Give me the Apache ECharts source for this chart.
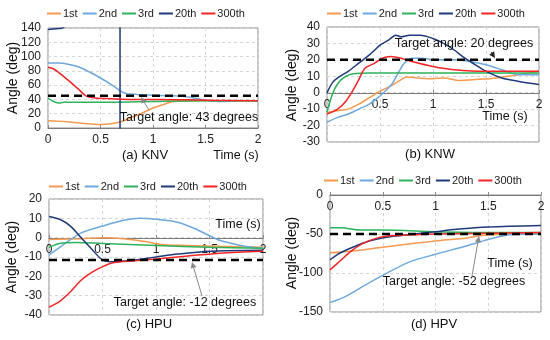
<!DOCTYPE html>
<html><head><meta charset="utf-8">
<script src="https://cdn.jsdelivr.net/npm/echarts@6/dist/echarts.min.js"></script>
<style>html,body{margin:0;padding:0;background:#fff}#c{width:550px;height:340px}</style>
</head><body><div id="c"></div>
<script>
var seriesNames = ['1st','2nd','3rd','20th','300th'];
var colors = ['#F59A4E','#6FA8DC','#2EB35A','#1F3A7A','#F52525'];
var xTicks = [0,0.5,1,1.5,2];

// (a) KNV
var knv1 = [[0,10],[0.15,9],[0.3,7],[0.5,5],[0.6,6],[0.7,9],[0.8,15],[0.9,21],[1.0,28],[1.1,33],[1.2,37],[1.4,38],[1.6,38],[2,38]];
var knv2 = [[0,91],[0.1,91],[0.2,89],[0.3,85],[0.4,78],[0.5,70],[0.6,61],[0.7,51],[0.75,48],[0.85,47],[1.0,46],[1.2,45],[1.35,43],[1.5,39],[1.65,37],[1.8,38],[2,38]];
var knv3 = [[0,42],[0.04,38],[0.1,35],[0.15,36],[0.3,36],[0.6,36],[1.0,37],[1.5,38],[2,38]];
var knv20 = [[0,138],[0.08,139],[0.15,141],[0.686,300],[0.686,-100]];
var knv300 = [[0,85],[0.05,83],[0.1,78],[0.2,66],[0.3,53],[0.36,45],[0.45,42],[0.6,41],[0.8,40],[1.0,40],[1.5,39],[2,38]];
var knvTarget = 45;

// (b) KNW
var knw1 = [[0,-12],[0.1,-11],[0.2,-10],[0.3,-7],[0.4,-3],[0.5,1],[0.6,4],[0.7,8],[0.75,9.5],[0.85,9],[1.0,8.5],[1.1,9],[1.25,7.5],[1.4,8],[1.6,9],[1.8,11],[2,13]];
var knw2 = [[0,-18],[0.1,-15],[0.2,-13],[0.3,-10],[0.4,-7],[0.5,-2],[0.55,1],[0.62,6],[0.68,13],[0.73,18],[0.8,21],[0.9,21],[1.0,20],[1.2,20],[1.35,19],[1.5,17],[1.65,14],[1.8,11],[2,11]];
var knw3 = [[0,-12],[0.03,-5],[0.07,2],[0.12,7],[0.18,10],[0.25,11.5],[0.4,12],[1,12],[2,12]];
var knw20 = [[0,0],[0.05,6],[0.1,9],[0.2,13],[0.3,18],[0.4,23],[0.45,26],[0.5,29],[0.58,32],[0.65,35],[0.7,34],[0.78,35],[0.88,35],[1.0,33],[1.1,30],[1.2,26],[1.3,21],[1.4,17],[1.5,13],[1.65,9],[1.8,7],[2,5]];
var knw300 = [[0,-13],[0.1,-10],[0.18,-5],[0.25,2],[0.3,8],[0.36,15],[0.45,18],[0.52,21],[0.6,22],[0.7,21],[0.8,19],[1.0,16],[1.2,14],[1.5,13],[2,13]];
var knwTarget = 20;

// (c) HPU
var hpu1 = [[0,-1],[0.3,-0.5],[0.5,0],[0.7,-0.5],[0.9,-2],[1.05,-3.5],[1.3,-4],[1.6,-4.5],[2,-5]];
var hpu2 = [[0,-9],[0.1,-5],[0.2,-1],[0.3,2.5],[0.5,6],[0.7,9],[0.85,10],[1.0,9.5],[1.2,8],[1.35,5],[1.5,1],[1.6,-1.5],[1.75,-3.5],[1.9,-5],[2,-5.5]];
var hpu3 = [[0,-5],[0.1,-3],[0.25,-2.5],[0.5,-3],[1,-4],[1.5,-5],[2,-5.5]];
var hpu20 = [[0,11],[0.1,9.5],[0.2,6],[0.3,0],[0.4,-6],[0.5,-11.5],[0.6,-12.5],[0.8,-11.5],[1.0,-10],[1.2,-8.5],[1.5,-7],[2,-6.5]];
var hpu300 = [[0,-36],[0.1,-33],[0.2,-28],[0.3,-22],[0.4,-18],[0.5,-15],[0.6,-13],[0.8,-12],[1.0,-11],[1.3,-9.5],[1.6,-8],[2,-7]];
var hpuTarget = -11.5;

// (d) HPV
var hpv1 = [[0,-74],[0.2,-72],[0.5,-67],[0.8,-62],[1.0,-59],[1.3,-55],[1.5,-51],[2,-50]];
var hpv2 = [[0,-138],[0.15,-130],[0.3,-118],[0.5,-103],[0.75,-86],[1.0,-76],[1.3,-65],[1.5,-57],[1.7,-51],[2,-50]];
var hpv3 = [[0,-42],[0.1,-42],[0.3,-45],[0.5,-45],[1,-47],[1.5,-48],[2,-48]];
var hpv20 = [[0,-83],[0.1,-74],[0.25,-65],[0.4,-58],[0.6,-53],[0.8,-50],[1,-47],[1.2,-44],[1.5,-41],[2,-39]];
var hpv300 = [[0,-96],[0.1,-84],[0.2,-72],[0.3,-63],[0.45,-55],[0.6,-52],[0.8,-51],[1.0,-50],[1.5,-49],[2,-48]];
var hpvTarget = -50;

var panels = [
  {data:[knv1,knv2,knv3,knv20,knv300], target:knvTarget, min:0, max:140, interval:20,
   grid:{left:48,top:28,width:210,height:100}, legend:{left:42,top:3}},
  {data:[knw1,knw2,knw3,knw20,knw300], target:knwTarget, min:-30, max:40, interval:10,
   grid:{left:327,top:27,width:212,height:115}, legend:{left:322,top:3}},
  {data:[hpu1,hpu2,hpu3,hpu20,hpu300], target:hpuTarget, min:-40, max:20, interval:10,
   grid:{left:49,top:199,width:214,height:116}, legend:{left:44,top:176}},
  {data:[hpv1,hpv2,hpv3,hpv20,hpv300], target:hpvTarget, min:-150, max:0, interval:50,
   grid:{left:330,top:195,width:211,height:117}, legend:{left:319,top:170}}
];

var FONT = 'Liberation Sans, Arial, sans-serif';
var grids=[], xAxes=[], yAxes=[], series=[], legends=[];
panels.forEach(function(p,i){
  grids.push(Object.assign({show:true, borderColor:'#8c8c8c', borderWidth:1, containLabel:false}, p.grid));
  // x axis sits where y = 0 on the value scale
  var zeroFrac = (0 - p.min) / (p.max - p.min);
  var atTop = zeroFrac >= 1;
  var off = atTop ? 0 : -Math.round(zeroFrac * p.grid.height);
  xAxes.push({type:'value', gridIndex:i, min:0, max:2, interval:0.5, position: atTop ? 'top' : 'bottom', offset: off,
    axisLine:{show:true, onZero:false, lineStyle:{color:'#7a7a7a', width:1}},
    axisTick:{show:true, inside:!atTop, length:3, lineStyle:{color:'#8c8c8c'}},
    axisLabel:{color:'#222', fontSize:12, fontFamily:FONT, margin:6, inside:atTop},
    splitLine:{show:true, lineStyle:{color:'#d6d6d6', type:[3,3]}}});
  yAxes.push({type:'value', gridIndex:i, min:p.min, max:p.max, interval:p.interval,
    axisLine:{show:false, onZero:false}, axisTick:{show:false},
    axisLabel:{color:'#222', fontSize:12, fontFamily:FONT, margin:7},
    splitLine:{show:true, lineStyle:{color:'#d6d6d6', type:[3,3]}}});
  p.data.forEach(function(d,k){
    series.push({type:'line', name:seriesNames[k], xAxisIndex:i, yAxisIndex:i, data:d,
      symbol:'none', smooth:0.3, clip:true, color:colors[k], lineStyle:{width:1.5, color:colors[k]}, z:3+k, animation:false});
  });
  series.push({type:'line', name:'target'+i, xAxisIndex:i, yAxisIndex:i,
    data:[[0,p.target],[2,p.target]], symbol:'none', color:'#000',
    lineStyle:{color:'#000', width:2.5, type:[8,5]}, z:20, animation:false});
  legends.push({left:p.legend.left, top:p.legend.top, width:300, data:seriesNames, itemWidth:14, itemHeight:10, itemGap:5,
    textStyle:{fontSize:11, fontFamily:FONT, color:'#222', padding:[0,0,0,-3]}, icon:'path://M0,4 L14,4 L14,6 L0,6 Z', selectedMode:false});
});

function txt(x,y,s,size,align){
  return {type:'text', x:x, y:y, z:50, style:{text:s, fontSize:size, fontFamily:FONT, fill:'#111', align:align||'center', verticalAlign:'middle'}};
}
function ytxt(x,y){
  return {type:'text', x:x, y:y, rotation:Math.PI/2, z:50, style:{text:'Angle (deg)', fontSize:14, fontFamily:FONT, fill:'#111', align:'center', verticalAlign:'middle'}};
}
function arrow(x1,y1,x2,y2,col){
  var ang=Math.atan2(y2-y1,x2-x1), L=6, W=3;
  var bx=x2-L*Math.cos(ang), by=y2-L*Math.sin(ang);
  var px=-Math.sin(ang)*W, py=Math.cos(ang)*W;
  return [
    {type:'line', z:50, shape:{x1:x1,y1:y1,x2:bx,y2:by}, style:{stroke:col, lineWidth:1}},
    {type:'polygon', z:50, shape:{points:[[x2,y2],[bx+px,by+py],[bx-px,by-py]]}, style:{fill:col}}
  ];
}
var graphics = [
  ytxt(13,78), ytxt(292,85), ytxt(12,257), ytxt(292,253),
  txt(145,155,'(a) KNV',13), txt(236,156,'Time (s)',12.5),
  txt(430,154,'(b) KNW',13), txt(505,117,'Time (s)',12.5),
  txt(149,324,'(c) HPU',13), txt(238,225,'Time (s)',12.5),
  txt(434,324,'(d) HPV',13), txt(510,264,'Time (s)',12.5),
  txt(189,118,'Target angle: 43 degrees',12.5), txt(464,44,'Target angle: 20 degrees',12.5),
  txt(185,303,'Target angle: -12 degrees',12.5), txt(454,282,'Target angle: -52 degrees',12.5)
].concat(arrow(149,110,141,97,'#888')).concat(arrow(491,52,495,58,'#222'))
 .concat(arrow(202,296,192,262,'#888')).concat(arrow(472,276,479,236,'#888'));

var chart = echarts.init(document.getElementById('c'), null, {renderer:'canvas'});
chart.setOption({animation:false, backgroundColor:'#fff', grid:grids, xAxis:xAxes, yAxis:yAxes, series:series, legend:legends, graphic:graphics});
</script></body></html>
